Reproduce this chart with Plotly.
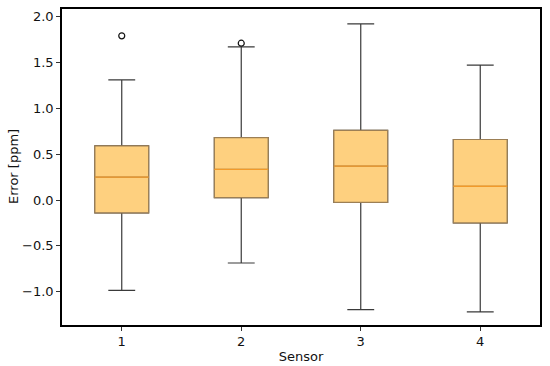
import plotly.graph_objects as go

sensors = [1, 2, 3, 4]
q1 = [-0.14, 0.025, -0.025, -0.25]
median = [0.25, 0.335, 0.37, 0.15]
q3 = [0.59, 0.68, 0.76, 0.66]
lower_whisker = [-0.985, -0.687, -1.196, -1.22]
upper_whisker = [1.31, 1.67, 1.92, 1.47]
outlier_x = [1, 2]
outlier_y = [1.79, 1.71]

BW = 0.45
fig = go.Figure()
# whiskers and caps
fig.add_trace(go.Box(x=sensors, q1=q1, median=median, q3=q3,
                     lowerfence=lower_whisker, upperfence=upper_whisker,
                     width=BW, whiskerwidth=0.5, fillcolor="rgba(0,0,0,0)",
                     line=dict(color="#3a3a3a", width=1.2), boxpoints=False,
                     hoverinfo="skip", showlegend=False))
# boxes
fig.add_trace(go.Box(x=sensors, q1=q1, median=median, q3=q3,
                     lowerfence=q1, upperfence=q3,
                     width=BW, whiskerwidth=0, fillcolor="#FED07F",
                     line=dict(color="#9C7F55", width=1.2), boxpoints=False,
                     hoverinfo="skip", showlegend=False))
# medians
fig.add_trace(go.Box(x=sensors, q1=median, median=median, q3=median,
                     lowerfence=median, upperfence=median,
                     width=BW, whiskerwidth=0, fillcolor="rgba(0,0,0,0)",
                     line=dict(color="#F29A2A", width=1.3), boxpoints=False,
                     hoverinfo="skip", showlegend=False))
# outliers
fig.add_trace(go.Scatter(x=outlier_x, y=outlier_y, mode="markers",
                         marker=dict(symbol="circle-open", size=6,
                                     color="#111111", line=dict(width=1.2)),
                         showlegend=False))

axis_common = dict(showline=True, linecolor="black", linewidth=1.5, mirror=True,
                   ticks="outside", ticklen=4, tickcolor="#333", tickwidth=1,
                   showgrid=False, zeroline=False, automargin=False,
                   tickfont=dict(family="DejaVu Sans", size=13, color="#111"),
                   title_font=dict(family="DejaVu Sans", size=13, color="#111"))

fig.update_layout(
    width=550, height=366,
    margin=dict(l=62, r=10, t=9, b=41),
    paper_bgcolor="white", plot_bgcolor="white",
    boxmode="overlay",
    xaxis=dict(range=[0.5, 4.5], tickvals=sensors, ticktext=[str(s) for s in sensors],
               title=dict(text="Sensor", standoff=4), **axis_common),
    yaxis=dict(range=[-1.363, 2.083], tickvals=[-1.0, -0.5, 0.0, 0.5, 1.0, 1.5, 2.0],
               tickformat=".1f", **axis_common),
    annotations=[dict(text="Error [ppm]", textangle=-90, xref="paper", yref="paper",
                      x=0, y=0.5, xanchor="center", yanchor="middle", xshift=-49,
                      showarrow=False,
                      font=dict(family="DejaVu Sans", size=13, color="#111"))],
)
fig.write_html("out.html", config={"displayModeBar": False},
               post_script="document.body.style.margin='0';document.body.style.overflow='hidden';")
